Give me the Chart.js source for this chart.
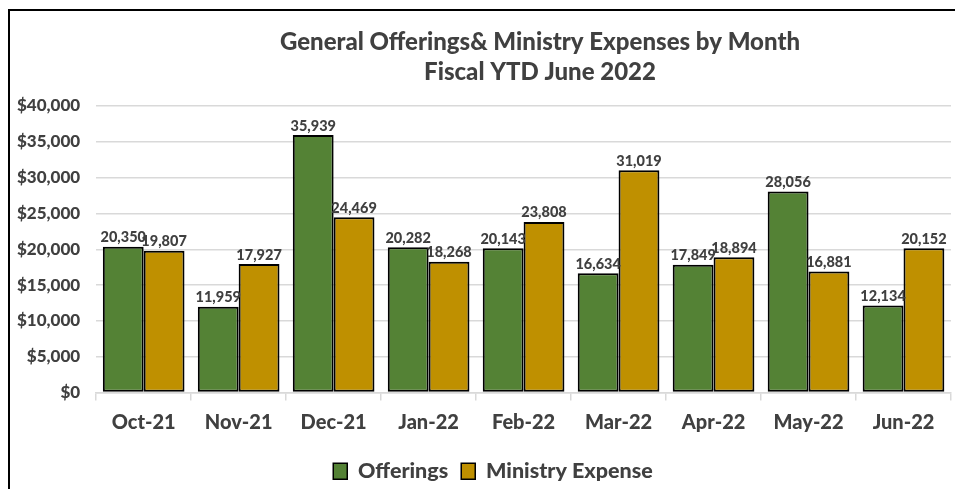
<!DOCTYPE html>
<html>
<head>
<meta charset="utf-8">
<script src="https://cdn.jsdelivr.net/npm/chart.js@4/dist/chart.umd.min.js"></script>
<style>
  html, body { margin: 0; padding: 0; background: #fff; overflow: hidden; }
  #frame { position: absolute; left: 8px; top: 9px; width: 2000px; height: 2000px; border: 2px solid #000; }
  #wrap { position: absolute; left: 0; top: 0; width: 955px; height: 489px; }
</style>
</head>
<body>
<div id="frame"></div>
<div id="wrap"><canvas id="chart"></canvas></div>
<script>
// ── Offerings vs ministry expense, fiscal YTD ─────────────

const months = ["Oct-21", "Nov-21", "Dec-21", "Jan-22", "Feb-22", "Mar-22", "Apr-22", "May-22", "Jun-22"];
const offerings = [20350, 11959, 35939, 20282, 20143, 16634, 17849, 28056, 12134];
const ministryExpense = [19807, 17927, 24469, 18268, 23808, 31019, 18894, 16881, 20152];
const titleLines = ["General Offerings& Ministry Expenses by Month", "Fiscal YTD June 2022"];

const FONT = "Lato, 'Open Sans', sans-serif";
const TEXT = "#404040";
const GRID = "#d9d9d9";

// Title drawn by hand so it can sit off-centre like the original
const titlePlugin = {
  id: "offsetTitle",
  afterDraw(chart) {
    const { ctx } = chart;
    ctx.save();
    ctx.fillStyle = TEXT;
    ctx.font = `900 24px ${FONT}`;
    ctx.textAlign = "center";
    ctx.textBaseline = "middle";
    ctx.fillText(titleLines[0], 540, 42);
    ctx.fillText(titleLines[1], 540, 72);
    ctx.restore();
  },
};

// Value labels above each bar
const valueLabels = {
  id: "valueLabels",
  afterDatasetsDraw(chart) {
    const { ctx } = chart;
    ctx.save();
    ctx.fillStyle = TEXT;
    ctx.font = `900 14.5px ${FONT}`;
    ctx.textAlign = "center";
    ctx.textBaseline = "bottom";
    chart.data.datasets.forEach((ds, di) => {
      chart.getDatasetMeta(di).data.forEach((bar, i) => {
        ctx.fillText(ds.data[i].toLocaleString("en-US"), bar.x, bar.y - 2);
      });
    });
    ctx.restore();
  },
};

// Nudge the legend, Excel places it a bit right
const legendShift = {
  id: "legendShift",
  afterLayout(chart) {
    if (!chart.legend) return;
    chart.legend.left += 17;
    chart.legend.right += 17;
    chart.legend.top += 3;
    chart.legend.bottom += 3;
  },
};

new Chart(document.getElementById("chart"), {
  type: "bar",
  data: {
    labels: months,
    datasets: [
      {
        label: "Offerings",
        data: offerings,
        backgroundColor: "#548235",
        borderColor: "#000",
        borderWidth: 2,
        borderSkipped: false,
      },
      {
        label: "Ministry Expense",
        data: ministryExpense,
        backgroundColor: "#bf9000",
        borderColor: "#000",
        borderWidth: 2,
        borderSkipped: false,
      },
    ],
  },
  options: {
    responsive: true,
    maintainAspectRatio: false,
    animation: false,
    categoryPercentage: 0.86,
    barPercentage: 1,
    layout: { padding: { top: 106, left: 1, right: 4, bottom: 0 } },
    plugins: {
      title: { display: false },
      tooltip: { enabled: false },
      legend: {
        position: "bottom",
        labels: {
          color: TEXT,
          font: { family: FONT, size: 21.5, weight: "900" },
          boxWidth: 14,
          boxHeight: 16,
          padding: 13,
          generateLabels: (chart) =>
            chart.data.datasets.map((ds, i) => ({
              text: ds.label,
              fillStyle: ds.backgroundColor,
              strokeStyle: "#000",
              lineWidth: 1.5,
              datasetIndex: i,
              fontColor: TEXT,
            })),
        },
      },
    },
    scales: {
      x: {
        grid: {
          drawOnChartArea: false,
          color: GRID,
          lineWidth: 1.5,
          tickLength: 8,
        },
        border: { color: GRID, width: 1.5 },
        ticks: {
          color: TEXT,
          font: { family: FONT, size: 20, weight: "900" },
          padding: 10,
        },
      },
      y: {
        min: 0,
        max: 40000,
        grid: { color: GRID, lineWidth: 1.5, drawTicks: false },
        border: { display: false },
        ticks: {
          stepSize: 5000,
          color: TEXT,
          font: { family: FONT, size: 17, weight: "900" },
          padding: 16,
          callback: (v) => "$" + v.toLocaleString("en-US"),
        },
      },
    },
  },
  plugins: [titlePlugin, valueLabels, legendShift],
});
</script>
</body>
</html>
